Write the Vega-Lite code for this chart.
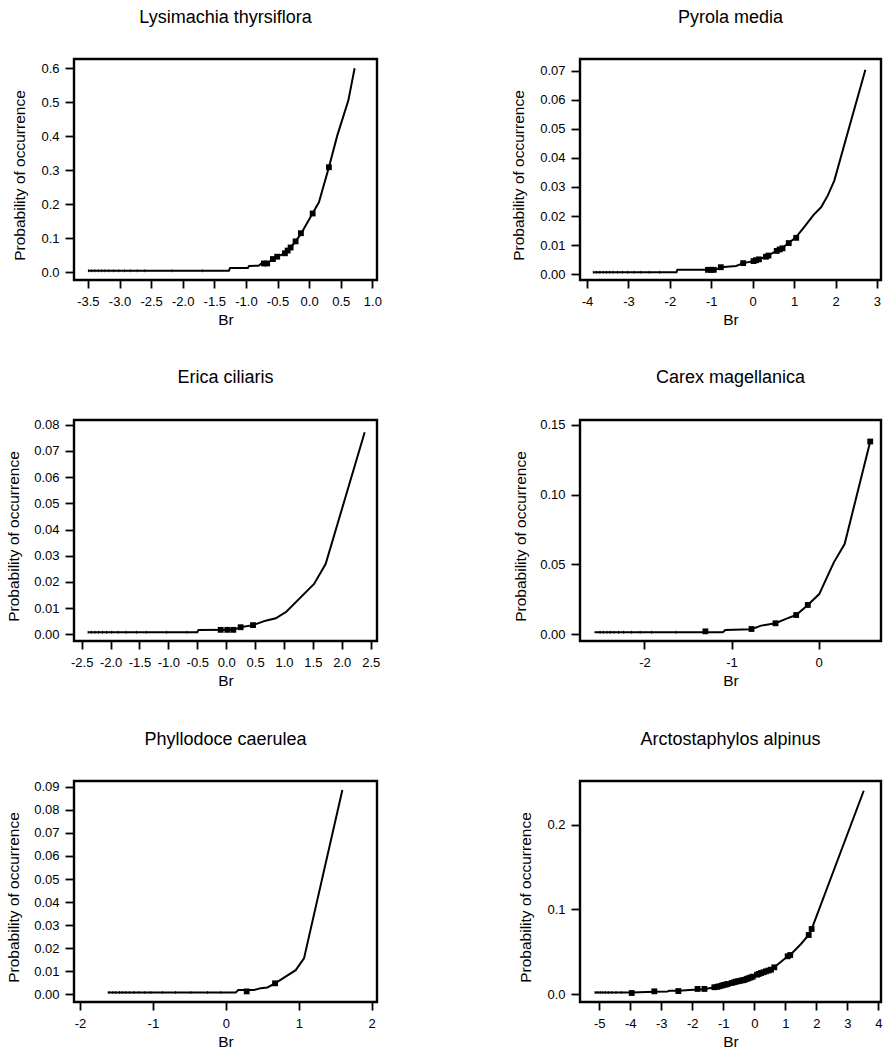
{
  "$schema": "https://vega.github.io/schema/vega-lite/v6.json",
  "background": "white",
  "padding": {"left": 4, "top": 7, "right": 0, "bottom": 0},
  "autosize": {"type": "pad"},
  "config": {
    "locale": {"number": {"decimal": ".", "thousands": ",", "grouping": [3], "currency": ["$", ""], "minus": "-"}},
    "font": "Liberation Sans",
    "view": {"stroke": "black", "strokeWidth": 2.4, "fill": "white"},
    "title": {"font": "Liberation Sans", "fontSize": 18, "fontWeight": "normal", "color": "black", "anchor": "middle", "baseline": "alphabetic", "offset": 32},
    "axis": {
      "domain": false, "grid": false,
      "tickColor": "black", "tickWidth": 1.8,
      "labelFont": "Liberation Sans", "labelFontSize": 13, "labelColor": "black",
      "titleFont": "Liberation Sans", "titleFontSize": 15.5, "titleFontWeight": "normal", "titleColor": "black",
      "labelFlush": false, "labelOverlap": false, "labelBound": false
    },
    "axisX": {"tickSize": 8, "labelPadding": 7, "titlePadding": 4},
    "axisY": {"tickSize": 9, "labelPadding": 6, "titleBaseline": "alphabetic", "titleY": 116}
  },
  "data": {
    "values": [
      {"sp": "Lysimachia thyrsiflora", "kind": "curve", "Br": -3.5, "p": 0.0047},
      {"sp": "Lysimachia thyrsiflora", "kind": "curve", "Br": -1.27, "p": 0.0047},
      {"sp": "Lysimachia thyrsiflora", "kind": "curve", "Br": -1.25, "p": 0.0125},
      {"sp": "Lysimachia thyrsiflora", "kind": "curve", "Br": -0.97, "p": 0.0127},
      {"sp": "Lysimachia thyrsiflora", "kind": "curve", "Br": -0.95, "p": 0.0185},
      {"sp": "Lysimachia thyrsiflora", "kind": "curve", "Br": -0.8, "p": 0.0195},
      {"sp": "Lysimachia thyrsiflora", "kind": "curve", "Br": -0.76, "p": 0.025},
      {"sp": "Lysimachia thyrsiflora", "kind": "curve", "Br": -0.66, "p": 0.027},
      {"sp": "Lysimachia thyrsiflora", "kind": "curve", "Br": -0.573, "p": 0.039},
      {"sp": "Lysimachia thyrsiflora", "kind": "curve", "Br": -0.505, "p": 0.046},
      {"sp": "Lysimachia thyrsiflora", "kind": "curve", "Br": -0.383, "p": 0.056},
      {"sp": "Lysimachia thyrsiflora", "kind": "curve", "Br": -0.34, "p": 0.064},
      {"sp": "Lysimachia thyrsiflora", "kind": "curve", "Br": -0.293, "p": 0.073},
      {"sp": "Lysimachia thyrsiflora", "kind": "curve", "Br": -0.214, "p": 0.091},
      {"sp": "Lysimachia thyrsiflora", "kind": "curve", "Br": -0.13, "p": 0.113},
      {"sp": "Lysimachia thyrsiflora", "kind": "curve", "Br": 0.056, "p": 0.1735},
      {"sp": "Lysimachia thyrsiflora", "kind": "curve", "Br": 0.155, "p": 0.206},
      {"sp": "Lysimachia thyrsiflora", "kind": "curve", "Br": 0.313, "p": 0.309},
      {"sp": "Lysimachia thyrsiflora", "kind": "curve", "Br": 0.445, "p": 0.402},
      {"sp": "Lysimachia thyrsiflora", "kind": "curve", "Br": 0.62, "p": 0.505},
      {"sp": "Lysimachia thyrsiflora", "kind": "curve", "Br": 0.72, "p": 0.6},
      {"sp": "Lysimachia thyrsiflora", "kind": "obs", "Br": -0.715, "p": 0.026},
      {"sp": "Lysimachia thyrsiflora", "kind": "obs", "Br": -0.663, "p": 0.026},
      {"sp": "Lysimachia thyrsiflora", "kind": "obs", "Br": -0.573, "p": 0.039},
      {"sp": "Lysimachia thyrsiflora", "kind": "obs", "Br": -0.505, "p": 0.046},
      {"sp": "Lysimachia thyrsiflora", "kind": "obs", "Br": -0.383, "p": 0.056},
      {"sp": "Lysimachia thyrsiflora", "kind": "obs", "Br": -0.34, "p": 0.064},
      {"sp": "Lysimachia thyrsiflora", "kind": "obs", "Br": -0.293, "p": 0.073},
      {"sp": "Lysimachia thyrsiflora", "kind": "obs", "Br": -0.214, "p": 0.091},
      {"sp": "Lysimachia thyrsiflora", "kind": "obs", "Br": -0.13, "p": 0.115},
      {"sp": "Lysimachia thyrsiflora", "kind": "obs", "Br": 0.056, "p": 0.173},
      {"sp": "Lysimachia thyrsiflora", "kind": "obs", "Br": 0.313, "p": 0.309},
      {"sp": "Lysimachia thyrsiflora", "kind": "rug", "Br": -3.49, "p": 0.0047},
      {"sp": "Lysimachia thyrsiflora", "kind": "rug", "Br": -3.44, "p": 0.0047},
      {"sp": "Lysimachia thyrsiflora", "kind": "rug", "Br": -3.39, "p": 0.0047},
      {"sp": "Lysimachia thyrsiflora", "kind": "rug", "Br": -3.33, "p": 0.0047},
      {"sp": "Lysimachia thyrsiflora", "kind": "rug", "Br": -3.28, "p": 0.0047},
      {"sp": "Lysimachia thyrsiflora", "kind": "rug", "Br": -3.23, "p": 0.0047},
      {"sp": "Lysimachia thyrsiflora", "kind": "rug", "Br": -3.17, "p": 0.0047},
      {"sp": "Lysimachia thyrsiflora", "kind": "rug", "Br": -3.09, "p": 0.0047},
      {"sp": "Lysimachia thyrsiflora", "kind": "rug", "Br": -3.01, "p": 0.0047},
      {"sp": "Lysimachia thyrsiflora", "kind": "rug", "Br": -2.92, "p": 0.0047},
      {"sp": "Lysimachia thyrsiflora", "kind": "rug", "Br": -2.83, "p": 0.0047},
      {"sp": "Lysimachia thyrsiflora", "kind": "rug", "Br": -2.72, "p": 0.0047},
      {"sp": "Lysimachia thyrsiflora", "kind": "rug", "Br": -2.6, "p": 0.0047},
      {"sp": "Lysimachia thyrsiflora", "kind": "rug", "Br": -2.17, "p": 0.0047},
      {"sp": "Lysimachia thyrsiflora", "kind": "rug", "Br": -1.69, "p": 0.0047},

      {"sp": "Pyrola media", "kind": "curve", "Br": -3.85, "p": 0.0007},
      {"sp": "Pyrola media", "kind": "curve", "Br": -1.84, "p": 0.0007},
      {"sp": "Pyrola media", "kind": "curve", "Br": -1.82, "p": 0.0015},
      {"sp": "Pyrola media", "kind": "curve", "Br": -0.9, "p": 0.0015},
      {"sp": "Pyrola media", "kind": "curve", "Br": -0.77, "p": 0.0024},
      {"sp": "Pyrola media", "kind": "curve", "Br": -0.4, "p": 0.0028},
      {"sp": "Pyrola media", "kind": "curve", "Br": -0.23, "p": 0.0038},
      {"sp": "Pyrola media", "kind": "curve", "Br": 0.04, "p": 0.0045},
      {"sp": "Pyrola media", "kind": "curve", "Br": 0.12, "p": 0.005},
      {"sp": "Pyrola media", "kind": "curve", "Br": 0.18, "p": 0.0053},
      {"sp": "Pyrola media", "kind": "curve", "Br": 0.32, "p": 0.006},
      {"sp": "Pyrola media", "kind": "curve", "Br": 0.4, "p": 0.0066},
      {"sp": "Pyrola media", "kind": "curve", "Br": 0.586, "p": 0.0081},
      {"sp": "Pyrola media", "kind": "curve", "Br": 0.683, "p": 0.0087},
      {"sp": "Pyrola media", "kind": "curve", "Br": 0.868, "p": 0.0107},
      {"sp": "Pyrola media", "kind": "curve", "Br": 1.044, "p": 0.0127},
      {"sp": "Pyrola media", "kind": "curve", "Br": 1.27, "p": 0.0167},
      {"sp": "Pyrola media", "kind": "curve", "Br": 1.47, "p": 0.0204},
      {"sp": "Pyrola media", "kind": "curve", "Br": 1.65, "p": 0.023},
      {"sp": "Pyrola media", "kind": "curve", "Br": 1.81, "p": 0.027},
      {"sp": "Pyrola media", "kind": "curve", "Br": 1.97, "p": 0.0322},
      {"sp": "Pyrola media", "kind": "curve", "Br": 2.25, "p": 0.0465},
      {"sp": "Pyrola media", "kind": "curve", "Br": 2.72, "p": 0.0703},
      {"sp": "Pyrola media", "kind": "obs", "Br": -1.08, "p": 0.0015},
      {"sp": "Pyrola media", "kind": "obs", "Br": -1.0, "p": 0.0015},
      {"sp": "Pyrola media", "kind": "obs", "Br": -0.94, "p": 0.0015},
      {"sp": "Pyrola media", "kind": "obs", "Br": -0.77, "p": 0.0024},
      {"sp": "Pyrola media", "kind": "obs", "Br": -0.23, "p": 0.0038},
      {"sp": "Pyrola media", "kind": "obs", "Br": 0.02, "p": 0.0045},
      {"sp": "Pyrola media", "kind": "obs", "Br": 0.08, "p": 0.0048},
      {"sp": "Pyrola media", "kind": "obs", "Br": 0.15, "p": 0.0051},
      {"sp": "Pyrola media", "kind": "obs", "Br": 0.32, "p": 0.006},
      {"sp": "Pyrola media", "kind": "obs", "Br": 0.38, "p": 0.0064},
      {"sp": "Pyrola media", "kind": "obs", "Br": 0.58, "p": 0.008},
      {"sp": "Pyrola media", "kind": "obs", "Br": 0.65, "p": 0.0085},
      {"sp": "Pyrola media", "kind": "obs", "Br": 0.72, "p": 0.0089},
      {"sp": "Pyrola media", "kind": "obs", "Br": 0.87, "p": 0.0107},
      {"sp": "Pyrola media", "kind": "obs", "Br": 1.05, "p": 0.0125},
      {"sp": "Pyrola media", "kind": "rug", "Br": -3.85, "p": 0.0007},
      {"sp": "Pyrola media", "kind": "rug", "Br": -3.77, "p": 0.0007},
      {"sp": "Pyrola media", "kind": "rug", "Br": -3.69, "p": 0.0007},
      {"sp": "Pyrola media", "kind": "rug", "Br": -3.61, "p": 0.0007},
      {"sp": "Pyrola media", "kind": "rug", "Br": -3.53, "p": 0.0007},
      {"sp": "Pyrola media", "kind": "rug", "Br": -3.45, "p": 0.0007},
      {"sp": "Pyrola media", "kind": "rug", "Br": -3.37, "p": 0.0007},
      {"sp": "Pyrola media", "kind": "rug", "Br": -3.26, "p": 0.0007},
      {"sp": "Pyrola media", "kind": "rug", "Br": -3.14, "p": 0.0007},
      {"sp": "Pyrola media", "kind": "rug", "Br": -3.02, "p": 0.0007},
      {"sp": "Pyrola media", "kind": "rug", "Br": -2.86, "p": 0.0007},
      {"sp": "Pyrola media", "kind": "rug", "Br": -2.7, "p": 0.0007},
      {"sp": "Pyrola media", "kind": "rug", "Br": -2.5, "p": 0.0007},
      {"sp": "Pyrola media", "kind": "rug", "Br": -2.25, "p": 0.0007},

      {"sp": "Erica ciliaris", "kind": "curve", "Br": -2.386, "p": 0.00076},
      {"sp": "Erica ciliaris", "kind": "curve", "Br": -0.5, "p": 0.00076},
      {"sp": "Erica ciliaris", "kind": "curve", "Br": -0.48, "p": 0.0016},
      {"sp": "Erica ciliaris", "kind": "curve", "Br": 0.12, "p": 0.0017},
      {"sp": "Erica ciliaris", "kind": "curve", "Br": 0.25, "p": 0.0027},
      {"sp": "Erica ciliaris", "kind": "curve", "Br": 0.464, "p": 0.0035},
      {"sp": "Erica ciliaris", "kind": "curve", "Br": 0.683, "p": 0.0052},
      {"sp": "Erica ciliaris", "kind": "curve", "Br": 0.857, "p": 0.0061},
      {"sp": "Erica ciliaris", "kind": "curve", "Br": 1.04, "p": 0.0086},
      {"sp": "Erica ciliaris", "kind": "curve", "Br": 1.52, "p": 0.0192},
      {"sp": "Erica ciliaris", "kind": "curve", "Br": 1.72, "p": 0.0268},
      {"sp": "Erica ciliaris", "kind": "curve", "Br": 2.396, "p": 0.0771},
      {"sp": "Erica ciliaris", "kind": "obs", "Br": -0.095, "p": 0.0017},
      {"sp": "Erica ciliaris", "kind": "obs", "Br": 0.019, "p": 0.0017},
      {"sp": "Erica ciliaris", "kind": "obs", "Br": 0.123, "p": 0.0017},
      {"sp": "Erica ciliaris", "kind": "obs", "Br": 0.25, "p": 0.0027},
      {"sp": "Erica ciliaris", "kind": "obs", "Br": 0.464, "p": 0.0035},
      {"sp": "Erica ciliaris", "kind": "rug", "Br": -2.39, "p": 0.00076},
      {"sp": "Erica ciliaris", "kind": "rug", "Br": -2.33, "p": 0.00076},
      {"sp": "Erica ciliaris", "kind": "rug", "Br": -2.27, "p": 0.00076},
      {"sp": "Erica ciliaris", "kind": "rug", "Br": -2.21, "p": 0.00076},
      {"sp": "Erica ciliaris", "kind": "rug", "Br": -2.14, "p": 0.00076},
      {"sp": "Erica ciliaris", "kind": "rug", "Br": -2.07, "p": 0.00076},
      {"sp": "Erica ciliaris", "kind": "rug", "Br": -1.98, "p": 0.00076},
      {"sp": "Erica ciliaris", "kind": "rug", "Br": -1.87, "p": 0.00076},
      {"sp": "Erica ciliaris", "kind": "rug", "Br": -1.73, "p": 0.00076},
      {"sp": "Erica ciliaris", "kind": "rug", "Br": -1.55, "p": 0.00076},
      {"sp": "Erica ciliaris", "kind": "rug", "Br": -1.38, "p": 0.00076},
      {"sp": "Erica ciliaris", "kind": "rug", "Br": -1.03, "p": 0.00076},
      {"sp": "Erica ciliaris", "kind": "rug", "Br": -0.68, "p": 0.00076},

      {"sp": "Carex magellanica", "kind": "curve", "Br": -2.575, "p": 0.0014},
      {"sp": "Carex magellanica", "kind": "curve", "Br": -1.1, "p": 0.0014},
      {"sp": "Carex magellanica", "kind": "curve", "Br": -1.07, "p": 0.0031},
      {"sp": "Carex magellanica", "kind": "curve", "Br": -0.77, "p": 0.0036},
      {"sp": "Carex magellanica", "kind": "curve", "Br": -0.66, "p": 0.0062},
      {"sp": "Carex magellanica", "kind": "curve", "Br": -0.494, "p": 0.0079},
      {"sp": "Carex magellanica", "kind": "curve", "Br": -0.36, "p": 0.0114},
      {"sp": "Carex magellanica", "kind": "curve", "Br": -0.257, "p": 0.0138},
      {"sp": "Carex magellanica", "kind": "curve", "Br": -0.123, "p": 0.021},
      {"sp": "Carex magellanica", "kind": "curve", "Br": 0.008, "p": 0.0288},
      {"sp": "Carex magellanica", "kind": "curve", "Br": 0.176, "p": 0.0515},
      {"sp": "Carex magellanica", "kind": "curve", "Br": 0.3, "p": 0.0646},
      {"sp": "Carex magellanica", "kind": "curve", "Br": 0.594, "p": 0.138},
      {"sp": "Carex magellanica", "kind": "obs", "Br": -1.3, "p": 0.0021},
      {"sp": "Carex magellanica", "kind": "obs", "Br": -0.77, "p": 0.0038},
      {"sp": "Carex magellanica", "kind": "obs", "Br": -0.494, "p": 0.0079},
      {"sp": "Carex magellanica", "kind": "obs", "Br": -0.257, "p": 0.0138},
      {"sp": "Carex magellanica", "kind": "obs", "Br": -0.123, "p": 0.021},
      {"sp": "Carex magellanica", "kind": "obs", "Br": 0.594, "p": 0.138},
      {"sp": "Carex magellanica", "kind": "rug", "Br": -2.51, "p": 0.0014},
      {"sp": "Carex magellanica", "kind": "rug", "Br": -2.47, "p": 0.0014},
      {"sp": "Carex magellanica", "kind": "rug", "Br": -2.43, "p": 0.0014},
      {"sp": "Carex magellanica", "kind": "rug", "Br": -2.39, "p": 0.0014},
      {"sp": "Carex magellanica", "kind": "rug", "Br": -2.35, "p": 0.0014},
      {"sp": "Carex magellanica", "kind": "rug", "Br": -2.3, "p": 0.0014},
      {"sp": "Carex magellanica", "kind": "rug", "Br": -2.24, "p": 0.0014},
      {"sp": "Carex magellanica", "kind": "rug", "Br": -2.15, "p": 0.0014},
      {"sp": "Carex magellanica", "kind": "rug", "Br": -2.05, "p": 0.0014},
      {"sp": "Carex magellanica", "kind": "rug", "Br": -1.92, "p": 0.0014},
      {"sp": "Carex magellanica", "kind": "rug", "Br": -1.64, "p": 0.0014},

      {"sp": "Phyllodoce caerulea", "kind": "curve", "Br": -1.62, "p": 0.00087},
      {"sp": "Phyllodoce caerulea", "kind": "curve", "Br": 0.136, "p": 0.00087},
      {"sp": "Phyllodoce caerulea", "kind": "curve", "Br": 0.171, "p": 0.0019},
      {"sp": "Phyllodoce caerulea", "kind": "curve", "Br": 0.387, "p": 0.0019},
      {"sp": "Phyllodoce caerulea", "kind": "curve", "Br": 0.479, "p": 0.0027},
      {"sp": "Phyllodoce caerulea", "kind": "curve", "Br": 0.57, "p": 0.003},
      {"sp": "Phyllodoce caerulea", "kind": "curve", "Br": 0.675, "p": 0.0048},
      {"sp": "Phyllodoce caerulea", "kind": "curve", "Br": 0.958, "p": 0.0105},
      {"sp": "Phyllodoce caerulea", "kind": "curve", "Br": 1.072, "p": 0.0156},
      {"sp": "Phyllodoce caerulea", "kind": "curve", "Br": 1.598, "p": 0.0886},
      {"sp": "Phyllodoce caerulea", "kind": "obs", "Br": 0.286, "p": 0.0013},
      {"sp": "Phyllodoce caerulea", "kind": "obs", "Br": 0.675, "p": 0.0048},
      {"sp": "Phyllodoce caerulea", "kind": "rug", "Br": -1.6, "p": 0.00087},
      {"sp": "Phyllodoce caerulea", "kind": "rug", "Br": -1.55, "p": 0.00087},
      {"sp": "Phyllodoce caerulea", "kind": "rug", "Br": -1.51, "p": 0.00087},
      {"sp": "Phyllodoce caerulea", "kind": "rug", "Br": -1.46, "p": 0.00087},
      {"sp": "Phyllodoce caerulea", "kind": "rug", "Br": -1.42, "p": 0.00087},
      {"sp": "Phyllodoce caerulea", "kind": "rug", "Br": -1.37, "p": 0.00087},
      {"sp": "Phyllodoce caerulea", "kind": "rug", "Br": -1.32, "p": 0.00087},
      {"sp": "Phyllodoce caerulea", "kind": "rug", "Br": -1.26, "p": 0.00087},
      {"sp": "Phyllodoce caerulea", "kind": "rug", "Br": -1.19, "p": 0.00087},
      {"sp": "Phyllodoce caerulea", "kind": "rug", "Br": -1.11, "p": 0.00087},
      {"sp": "Phyllodoce caerulea", "kind": "rug", "Br": -1.03, "p": 0.00087},
      {"sp": "Phyllodoce caerulea", "kind": "rug", "Br": -0.87, "p": 0.00087},
      {"sp": "Phyllodoce caerulea", "kind": "rug", "Br": -0.69, "p": 0.00087},
      {"sp": "Phyllodoce caerulea", "kind": "rug", "Br": -0.48, "p": 0.00087},
      {"sp": "Phyllodoce caerulea", "kind": "rug", "Br": -0.25, "p": 0.00087},
      {"sp": "Phyllodoce caerulea", "kind": "rug", "Br": -0.07, "p": 0.00087},

      {"sp": "Arctostaphylos alpinus", "kind": "curve", "Br": -5.14, "p": 0.0022},
      {"sp": "Arctostaphylos alpinus", "kind": "curve", "Br": -3.96, "p": 0.0022},
      {"sp": "Arctostaphylos alpinus", "kind": "curve", "Br": -3.23, "p": 0.003},
      {"sp": "Arctostaphylos alpinus", "kind": "curve", "Br": -2.8, "p": 0.0032},
      {"sp": "Arctostaphylos alpinus", "kind": "curve", "Br": -2.75, "p": 0.0041},
      {"sp": "Arctostaphylos alpinus", "kind": "curve", "Br": -2.45, "p": 0.0042},
      {"sp": "Arctostaphylos alpinus", "kind": "curve", "Br": -1.83, "p": 0.0055},
      {"sp": "Arctostaphylos alpinus", "kind": "curve", "Br": -1.61, "p": 0.006},
      {"sp": "Arctostaphylos alpinus", "kind": "curve", "Br": -1.29, "p": 0.0083},
      {"sp": "Arctostaphylos alpinus", "kind": "curve", "Br": -1.13, "p": 0.0094},
      {"sp": "Arctostaphylos alpinus", "kind": "curve", "Br": -0.99, "p": 0.011},
      {"sp": "Arctostaphylos alpinus", "kind": "curve", "Br": -0.86, "p": 0.0121},
      {"sp": "Arctostaphylos alpinus", "kind": "curve", "Br": -0.73, "p": 0.0133},
      {"sp": "Arctostaphylos alpinus", "kind": "curve", "Br": -0.59, "p": 0.0149},
      {"sp": "Arctostaphylos alpinus", "kind": "curve", "Br": -0.45, "p": 0.016},
      {"sp": "Arctostaphylos alpinus", "kind": "curve", "Br": -0.32, "p": 0.0169},
      {"sp": "Arctostaphylos alpinus", "kind": "curve", "Br": -0.19, "p": 0.0189},
      {"sp": "Arctostaphylos alpinus", "kind": "curve", "Br": -0.05, "p": 0.0208},
      {"sp": "Arctostaphylos alpinus", "kind": "curve", "Br": 0.087, "p": 0.0231},
      {"sp": "Arctostaphylos alpinus", "kind": "curve", "Br": 0.216, "p": 0.0251},
      {"sp": "Arctostaphylos alpinus", "kind": "curve", "Br": 0.377, "p": 0.0271},
      {"sp": "Arctostaphylos alpinus", "kind": "curve", "Br": 0.539, "p": 0.029},
      {"sp": "Arctostaphylos alpinus", "kind": "curve", "Br": 0.645, "p": 0.0318},
      {"sp": "Arctostaphylos alpinus", "kind": "curve", "Br": 1.077, "p": 0.0448},
      {"sp": "Arctostaphylos alpinus", "kind": "curve", "Br": 1.16, "p": 0.0463},
      {"sp": "Arctostaphylos alpinus", "kind": "curve", "Br": 1.506, "p": 0.0593},
      {"sp": "Arctostaphylos alpinus", "kind": "curve", "Br": 1.755, "p": 0.0699},
      {"sp": "Arctostaphylos alpinus", "kind": "curve", "Br": 1.85, "p": 0.077},
      {"sp": "Arctostaphylos alpinus", "kind": "curve", "Br": 3.53, "p": 0.24},
      {"sp": "Arctostaphylos alpinus", "kind": "obs", "Br": -3.955, "p": 0.0015},
      {"sp": "Arctostaphylos alpinus", "kind": "obs", "Br": -3.226, "p": 0.0035},
      {"sp": "Arctostaphylos alpinus", "kind": "obs", "Br": -2.45, "p": 0.0038},
      {"sp": "Arctostaphylos alpinus", "kind": "obs", "Br": -1.83, "p": 0.0063},
      {"sp": "Arctostaphylos alpinus", "kind": "obs", "Br": -1.61, "p": 0.0063},
      {"sp": "Arctostaphylos alpinus", "kind": "obs", "Br": -1.29, "p": 0.0083},
      {"sp": "Arctostaphylos alpinus", "kind": "obs", "Br": -1.2, "p": 0.0088},
      {"sp": "Arctostaphylos alpinus", "kind": "obs", "Br": -1.13, "p": 0.0094},
      {"sp": "Arctostaphylos alpinus", "kind": "obs", "Br": -1.05, "p": 0.0102},
      {"sp": "Arctostaphylos alpinus", "kind": "obs", "Br": -0.99, "p": 0.011},
      {"sp": "Arctostaphylos alpinus", "kind": "obs", "Br": -0.92, "p": 0.0115},
      {"sp": "Arctostaphylos alpinus", "kind": "obs", "Br": -0.86, "p": 0.0121},
      {"sp": "Arctostaphylos alpinus", "kind": "obs", "Br": -0.73, "p": 0.0133},
      {"sp": "Arctostaphylos alpinus", "kind": "obs", "Br": -0.65, "p": 0.0142},
      {"sp": "Arctostaphylos alpinus", "kind": "obs", "Br": -0.59, "p": 0.0149},
      {"sp": "Arctostaphylos alpinus", "kind": "obs", "Br": -0.52, "p": 0.0154},
      {"sp": "Arctostaphylos alpinus", "kind": "obs", "Br": -0.45, "p": 0.016},
      {"sp": "Arctostaphylos alpinus", "kind": "obs", "Br": -0.38, "p": 0.0165},
      {"sp": "Arctostaphylos alpinus", "kind": "obs", "Br": -0.32, "p": 0.0169},
      {"sp": "Arctostaphylos alpinus", "kind": "obs", "Br": -0.25, "p": 0.018},
      {"sp": "Arctostaphylos alpinus", "kind": "obs", "Br": -0.19, "p": 0.0189},
      {"sp": "Arctostaphylos alpinus", "kind": "obs", "Br": -0.12, "p": 0.0198},
      {"sp": "Arctostaphylos alpinus", "kind": "obs", "Br": -0.05, "p": 0.0208},
      {"sp": "Arctostaphylos alpinus", "kind": "obs", "Br": 0.087, "p": 0.0231},
      {"sp": "Arctostaphylos alpinus", "kind": "obs", "Br": 0.15, "p": 0.024},
      {"sp": "Arctostaphylos alpinus", "kind": "obs", "Br": 0.216, "p": 0.0251},
      {"sp": "Arctostaphylos alpinus", "kind": "obs", "Br": 0.3, "p": 0.026},
      {"sp": "Arctostaphylos alpinus", "kind": "obs", "Br": 0.377, "p": 0.0271},
      {"sp": "Arctostaphylos alpinus", "kind": "obs", "Br": 0.46, "p": 0.028},
      {"sp": "Arctostaphylos alpinus", "kind": "obs", "Br": 0.539, "p": 0.029},
      {"sp": "Arctostaphylos alpinus", "kind": "obs", "Br": 0.645, "p": 0.0318},
      {"sp": "Arctostaphylos alpinus", "kind": "obs", "Br": 1.077, "p": 0.0448},
      {"sp": "Arctostaphylos alpinus", "kind": "obs", "Br": 1.16, "p": 0.0463},
      {"sp": "Arctostaphylos alpinus", "kind": "obs", "Br": 1.755, "p": 0.0699},
      {"sp": "Arctostaphylos alpinus", "kind": "obs", "Br": 1.85, "p": 0.077},
      {"sp": "Arctostaphylos alpinus", "kind": "rug", "Br": -5.14, "p": 0.0022},
      {"sp": "Arctostaphylos alpinus", "kind": "rug", "Br": -5.05, "p": 0.0022},
      {"sp": "Arctostaphylos alpinus", "kind": "rug", "Br": -4.97, "p": 0.0022},
      {"sp": "Arctostaphylos alpinus", "kind": "rug", "Br": -4.88, "p": 0.0022},
      {"sp": "Arctostaphylos alpinus", "kind": "rug", "Br": -4.8, "p": 0.0022},
      {"sp": "Arctostaphylos alpinus", "kind": "rug", "Br": -4.71, "p": 0.0022},
      {"sp": "Arctostaphylos alpinus", "kind": "rug", "Br": -4.6, "p": 0.0022},
      {"sp": "Arctostaphylos alpinus", "kind": "rug", "Br": -4.46, "p": 0.0022},
      {"sp": "Arctostaphylos alpinus", "kind": "rug", "Br": -4.3, "p": 0.0022}
    ]
  },
  "columns": 2,
  "spacing": {"row": 140, "column": 203},
  "bounds": "flush",
  "concat": [
    {
      "title": "Lysimachia thyrsiflora",
      "width": 303, "height": 221,
      "transform": [{"filter": "datum.sp === 'Lysimachia thyrsiflora'"}],
      "encoding": {
        "x": {"field": "Br", "type": "quantitative", "title": "Br",
              "scale": {"domain": [-3.72, 1.074], "nice": false, "zero": false},
              "axis": {"values": [-3.5, -3, -2.5, -2, -1.5, -1, -0.5, 0, 0.5, 1], "format": ".1f"}},
        "y": {"field": "p", "type": "quantitative", "title": "Probability of occurrence",
              "scale": {"domain": [-0.0226, 0.6274], "nice": false, "zero": false},
              "axis": {"values": [0, 0.1, 0.2, 0.3, 0.4, 0.5, 0.6], "format": ".1f", "titleX": -50}}
      },
      "layer": [
        {"transform": [{"filter": "datum.kind === 'curve'"}], "mark": {"type": "line", "color": "black", "strokeWidth": 2}},
        {"transform": [{"filter": "datum.kind === 'rug'"}], "mark": {"type": "tick", "orient": "vertical", "size": 3, "thickness": 0.8, "color": "black", "opacity": 1}},
        {"transform": [{"filter": "datum.kind === 'obs'"}], "mark": {"type": "point", "shape": "square", "filled": true, "size": 34, "color": "black", "opacity": 1}}
      ]
    },
    {
      "title": "Pyrola media",
      "width": 301, "height": 221,
      "transform": [{"filter": "datum.sp === 'Pyrola media'"}],
      "encoding": {
        "x": {"field": "Br", "type": "quantitative", "title": "Br",
              "scale": {"domain": [-4.169, 3.097], "nice": false, "zero": false},
              "axis": {"values": [-4, -3, -2, -1, 0, 1, 2, 3], "format": "d"}},
        "y": {"field": "p", "type": "quantitative", "title": "Probability of occurrence",
              "scale": {"domain": [-0.002, 0.074], "nice": false, "zero": false},
              "axis": {"values": [0, 0.01, 0.02, 0.03, 0.04, 0.05, 0.06, 0.07], "format": ".2f", "titleX": -57}}
      },
      "layer": [
        {"transform": [{"filter": "datum.kind === 'curve'"}], "mark": {"type": "line", "color": "black", "strokeWidth": 2}},
        {"transform": [{"filter": "datum.kind === 'rug'"}], "mark": {"type": "tick", "orient": "vertical", "size": 3, "thickness": 0.8, "color": "black", "opacity": 1}},
        {"transform": [{"filter": "datum.kind === 'obs'"}], "mark": {"type": "point", "shape": "square", "filled": true, "size": 34, "color": "black", "opacity": 1}}
      ]
    },
    {
      "title": "Erica ciliaris",
      "width": 303, "height": 221,
      "transform": [{"filter": "datum.sp === 'Erica ciliaris'"}],
      "encoding": {
        "x": {"field": "Br", "type": "quantitative", "title": "Br",
              "scale": {"domain": [-2.633, 2.609], "nice": false, "zero": false},
              "axis": {"values": [-2.5, -2, -1.5, -1, -0.5, 0, 0.5, 1, 1.5, 2, 2.5], "format": ".1f"}},
        "y": {"field": "p", "type": "quantitative", "title": "Probability of occurrence",
              "scale": {"domain": [-0.00256, 0.0818], "nice": false, "zero": false},
              "axis": {"values": [0, 0.01, 0.02, 0.03, 0.04, 0.05, 0.06, 0.07, 0.08], "format": ".2f", "titleX": -56}}
      },
      "layer": [
        {"transform": [{"filter": "datum.kind === 'curve'"}], "mark": {"type": "line", "color": "black", "strokeWidth": 2}},
        {"transform": [{"filter": "datum.kind === 'rug'"}], "mark": {"type": "tick", "orient": "vertical", "size": 3, "thickness": 0.8, "color": "black", "opacity": 1}},
        {"transform": [{"filter": "datum.kind === 'obs'"}], "mark": {"type": "point", "shape": "square", "filled": true, "size": 34, "color": "black", "opacity": 1}}
      ]
    },
    {
      "title": "Carex magellanica",
      "width": 301, "height": 221,
      "transform": [{"filter": "datum.sp === 'Carex magellanica'"}],
      "encoding": {
        "x": {"field": "Br", "type": "quantitative", "title": "Br",
              "scale": {"domain": [-2.741, 0.718], "nice": false, "zero": false},
              "axis": {"values": [-2, -1, 0], "format": "d"}},
        "y": {"field": "p", "type": "quantitative", "title": "Probability of occurrence",
              "scale": {"domain": [-0.0048, 0.1534], "nice": false, "zero": false},
              "axis": {"values": [0, 0.05, 0.1, 0.15], "format": ".2f", "titleX": -55}}
      },
      "layer": [
        {"transform": [{"filter": "datum.kind === 'curve'"}], "mark": {"type": "line", "color": "black", "strokeWidth": 2}},
        {"transform": [{"filter": "datum.kind === 'rug'"}], "mark": {"type": "tick", "orient": "vertical", "size": 3, "thickness": 0.8, "color": "black", "opacity": 1}},
        {"transform": [{"filter": "datum.kind === 'obs'"}], "mark": {"type": "point", "shape": "square", "filled": true, "size": 34, "color": "black", "opacity": 1}}
      ]
    },
    {
      "title": "Phyllodoce caerulea",
      "width": 303, "height": 221,
      "transform": [{"filter": "datum.sp === 'Phyllodoce caerulea'"}],
      "encoding": {
        "x": {"field": "Br", "type": "quantitative", "title": "Br",
              "scale": {"domain": [-2.082, 2.073], "nice": false, "zero": false},
              "axis": {"values": [-2, -1, 0, 1, 2], "format": "d"}},
        "y": {"field": "p", "type": "quantitative", "title": "Probability of occurrence",
              "scale": {"domain": [-0.0033, 0.0925], "nice": false, "zero": false},
              "axis": {"values": [0, 0.01, 0.02, 0.03, 0.04, 0.05, 0.06, 0.07, 0.08, 0.09], "format": ".2f", "titleX": -56}}
      },
      "layer": [
        {"transform": [{"filter": "datum.kind === 'curve'"}], "mark": {"type": "line", "color": "black", "strokeWidth": 2}},
        {"transform": [{"filter": "datum.kind === 'rug'"}], "mark": {"type": "tick", "orient": "vertical", "size": 3, "thickness": 0.8, "color": "black", "opacity": 1}},
        {"transform": [{"filter": "datum.kind === 'obs'"}], "mark": {"type": "point", "shape": "square", "filled": true, "size": 34, "color": "black", "opacity": 1}}
      ]
    },
    {
      "title": "Arctostaphylos alpinus",
      "width": 301, "height": 221,
      "transform": [{"filter": "datum.sp === 'Arctostaphylos alpinus'"}],
      "encoding": {
        "x": {"field": "Br", "type": "quantitative", "title": "Br",
              "scale": {"domain": [-5.623, 4.087], "nice": false, "zero": false},
              "axis": {"values": [-5, -4, -3, -2, -1, 0, 1, 2, 3, 4], "format": "d"}},
        "y": {"field": "p", "type": "quantitative", "title": "Probability of occurrence",
              "scale": {"domain": [-0.0091, 0.2515], "nice": false, "zero": false},
              "axis": {"values": [0, 0.1, 0.2], "format": ".1f", "titleX": -50}}
      },
      "layer": [
        {"transform": [{"filter": "datum.kind === 'curve'"}], "mark": {"type": "line", "color": "black", "strokeWidth": 2}},
        {"transform": [{"filter": "datum.kind === 'rug'"}], "mark": {"type": "tick", "orient": "vertical", "size": 3, "thickness": 0.8, "color": "black", "opacity": 1}},
        {"transform": [{"filter": "datum.kind === 'obs'"}], "mark": {"type": "point", "shape": "square", "filled": true, "size": 34, "color": "black", "opacity": 1}}
      ]
    }
  ]
}
